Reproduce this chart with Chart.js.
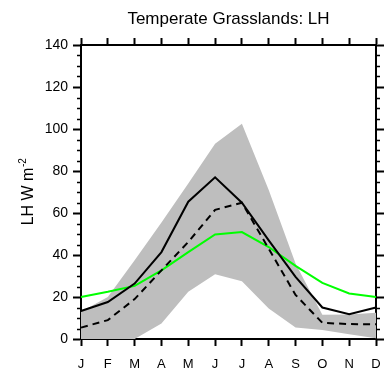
<!DOCTYPE html>
<html>
<head>
<meta charset="utf-8">
<script src="https://cdn.jsdelivr.net/npm/chart.js@4"></script>
<style>
html,body{margin:0;padding:0;background:#fff;}
#c{display:block;}
</style>
</head>
<body>
<canvas id="c" width="386" height="369"></canvas>
<script>
const months = ['J','F','M','A','M','J','J','A','S','O','N','D'];
const yTicks = [0, 20, 40, 60, 80, 100, 120, 140];
const solidLH = [13.3, 17.6, 26.4, 41.4, 65.4, 77, 64.9, 47, 29.6, 15, 11.8, 15];
const dashedLH = [5.4, 9, 19, 32.7, 46.2, 61.5, 64.9, 43, 21, 7.7, 7.1, 7];
const greenLH = [20, 22.5, 25.3, 32.7, 41.4, 49.8, 50.9, 43.8, 34.8, 26.7, 21.7, 20];
const bandUpper = [13, 20, 37.5, 55.5, 74, 93, 102.5, 71, 36, 11.5, 11.7, 12.5];
const bandLower = [0, 0, 0, 7.4, 22.5, 30.8, 27.5, 14.5, 5.5, 4.3, 2.3, 0.3];
const titleText = 'Temperate Grasslands: LH';
const yTitleMain = 'LH W m';
const yTitleSup = '-2';

const FONT = '"Liberation Sans", Arial, Helvetica, sans-serif';

const extraPlugin = {
  id: 'extra',
  afterDraw(chart) {
    const ctx = chart.ctx;
    const y = chart.scales.y;
    const area = chart.chartArea;
    ctx.save();
    // minor ticks every 5
    ctx.strokeStyle = '#000';
    ctx.lineWidth = 1.5;
    for (let v = 0; v <= 140; v += 5) {
      if (v % 20 === 0) continue;
      const py = Math.round(y.getPixelForValue(v)) + 0.5;
      ctx.beginPath();
      ctx.moveTo(area.left, py); ctx.lineTo(area.left - 4, py);
      ctx.moveTo(area.right, py); ctx.lineTo(area.right + 4, py);
      ctx.stroke();
    }
    // title centred over the plot
    ctx.fillStyle = '#000';
    ctx.font = '17px ' + FONT;
    ctx.textAlign = 'center';
    ctx.textBaseline = 'alphabetic';
    ctx.fillText(titleText, (area.left + area.right) / 2, 24);
    // y axis title with superscript
    const cy = (area.top + area.bottom) / 2;
    ctx.translate(33, cy);
    ctx.rotate(-Math.PI / 2);
    ctx.textAlign = 'left';
    ctx.font = '16px ' + FONT;
    const wMain = ctx.measureText(yTitleMain).width;
    ctx.font = '10px ' + FONT;
    const wSup = ctx.measureText(yTitleSup).width;
    const start = -(wMain + wSup) / 2;
    ctx.font = '16px ' + FONT;
    ctx.fillText(yTitleMain, start, 0);
    ctx.font = '10px ' + FONT;
    ctx.fillText(yTitleSup, start + wMain + 0.5, -7);
    ctx.restore();
  }
};

const common = { pointRadius: 0, tension: 0, xAxisID: 'x', yAxisID: 'y' };

function noSidePad(s) { s.paddingLeft = 0; s.paddingRight = 0; }

new Chart(document.getElementById('c'), {
  type: 'line',
  data: {
    labels: months,
    datasets: [
      Object.assign({ data: solidLH, borderColor: '#000', borderWidth: 2, fill: false }, common),
      Object.assign({ data: dashedLH, borderColor: '#000', borderWidth: 2, borderDash: [7, 5], fill: false }, common),
      Object.assign({ data: greenLH, borderColor: '#00ff00', borderWidth: 2, fill: false }, common),
      Object.assign({ data: bandUpper, borderWidth: 0, borderColor: 'rgba(0,0,0,0)', backgroundColor: '#bebebe', fill: '+1' }, common),
      Object.assign({ data: bandLower, borderWidth: 0, borderColor: 'rgba(0,0,0,0)', fill: false }, common)
    ]
  },
  options: {
    responsive: false,
    animation: false,
    devicePixelRatio: 1,
    layout: { padding: 0 },
    plugins: {
      legend: { display: false },
      tooltip: { enabled: false },
      title: { display: false }
    },
    scales: {
      x: {
        type: 'category',
        position: 'bottom',
        offset: false,
        grid: { offset: false, drawOnChartArea: false, drawTicks: true, tickLength: 7, tickWidth: 2, tickColor: '#000' },
        border: { display: true, color: '#000', width: 2 },
        ticks: { color: '#000', font: { family: FONT, size: 13 }, padding: 11, autoSkip: false, maxRotation: 0 },
        afterFit(s) { s.height = 30; noSidePad(s); }
      },
      x2: {
        type: 'category',
        position: 'top',
        offset: false,
        grid: { offset: false, drawOnChartArea: false, drawTicks: true, tickLength: 7, tickWidth: 2, tickColor: '#000' },
        border: { display: true, color: '#000', width: 2 },
        ticks: { color: 'rgba(0,0,0,0)', font: { size: 1 }, padding: 0, autoSkip: false, maxRotation: 0 },
        afterFit(s) { s.height = 45; noSidePad(s); }
      },
      y: {
        type: 'linear',
        position: 'left',
        min: yTicks[0],
        max: yTicks[yTicks.length - 1],
        afterBuildTicks(s) { s.ticks = yTicks.map(v => ({ value: v })); },
        grid: { drawOnChartArea: false, drawTicks: true, tickLength: 8, tickWidth: 2, tickColor: '#000' },
        border: { display: true, color: '#000', width: 2 },
        ticks: { color: '#000', font: { family: FONT, size: 14 }, padding: 5 },
        afterFit(s) { s.width = 81; }
      },
      y2: {
        type: 'linear',
        position: 'right',
        min: yTicks[0],
        max: yTicks[yTicks.length - 1],
        afterBuildTicks(s) { s.ticks = yTicks.map(v => ({ value: v })); },
        grid: { drawOnChartArea: false, drawTicks: true, tickLength: 8, tickWidth: 2, tickColor: '#000' },
        border: { display: true, color: '#000', width: 2 },
        ticks: { display: false },
        afterFit(s) { s.width = 10; }
      }
    }
  },
  plugins: [extraPlugin]
});
</script>
</body>
</html>
